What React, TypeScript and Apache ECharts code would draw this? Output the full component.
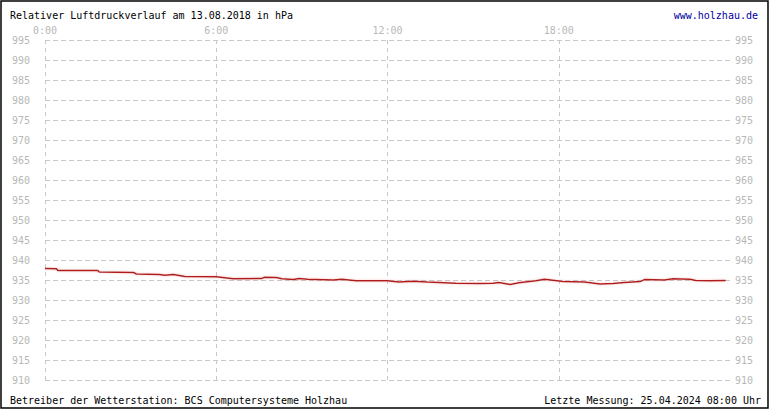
import React, { useEffect, useRef } from 'react';
import * as echarts from 'echarts';

// Messzeit in Stunden seit 0:00 und Luftdruck in hPa
const hours = [
  0.0, 0.4, 0.45, 1.85, 1.9, 3.1, 3.2, 4.0, 4.2, 4.5, 4.9, 6.0, 6.6, 7.6, 7.7, 8.1, 8.3, 8.7, 8.9,
  9.2, 10.1, 10.4, 10.9, 11.7, 12.0, 12.4, 12.9, 13.4, 14.4, 15.2, 15.7, 15.9, 16.3, 16.6, 17.2,
  17.5, 18.15, 18.9, 19.45, 19.9, 20.3, 20.85, 21.0, 21.7, 22.0, 22.6, 22.8, 23.3, 23.85,
];
const pressure = [
  937.9, 937.8, 937.4, 937.4, 937.0, 936.9, 936.5, 936.4, 936.2, 936.4, 935.9, 935.8, 935.3, 935.4,
  935.7, 935.6, 935.3, 935.1, 935.4, 935.2, 935.0, 935.2, 934.8, 934.8, 934.8, 934.5, 934.7, 934.5,
  934.2, 934.1, 934.2, 934.4, 933.9, 934.3, 934.8, 935.2, 934.6, 934.5, 934.0, 934.1, 934.4, 934.6,
  935.1, 935.0, 935.3, 935.2, 934.9, 934.8, 934.9,
];
const hourTicks = [0, 6, 12, 18];

const title = 'Relativer Luftdruckverlauf am 13.08.2018 in hPa';
const link = 'www.holzhau.de';
const footerLeft = 'Betreiber der Wetterstation: BCS Computersysteme Holzhau';
const footerRight = 'Letzte Messung: 25.04.2024 08:00 Uhr';

const FONT = '"DejaVu Sans Mono", "Liberation Mono", monospace';
const GRID = '#c8c8c8';
const LABEL = '#b8b8b8';

export default function App() {
  const chartRef = useRef<HTMLDivElement>(null);

  useEffect(() => {
    if (!chartRef.current) return;
    const chart = echarts.init(chartRef.current, undefined, { renderer: 'svg' });

    const yAxisBase = {
      type: 'value' as const,
      min: 910,
      max: 995,
      interval: 5,
      axisLine: { show: false },
      axisTick: { show: false },
      axisLabel: { color: LABEL, fontFamily: FONT, fontSize: 10 },
    };

    chart.setOption({
      animation: false,
      backgroundColor: '#fff',
      grid: { left: 45, right: 40, top: 40, bottom: 30 },
      xAxis: {
        type: 'value',
        position: 'top',
        min: 0,
        max: 24,
        interval: 6,
        axisLine: { show: false },
        axisTick: { show: false },
        axisLabel: {
          color: LABEL,
          fontFamily: FONT,
          fontSize: 10,
          margin: 5,
          showMaxLabel: false,
          formatter: (v: number) => (hourTicks.includes(v) ? `${v}:00` : ''),
        },
        splitLine: {
          show: true,
          lineStyle: {
            color: [GRID, GRID, GRID, GRID, 'rgba(0,0,0,0)'],
            type: [4, 4],
            width: 1,
          },
        },
      },
      yAxis: [
        {
          ...yAxisBase,
          position: 'left',
          axisLabel: { ...yAxisBase.axisLabel, margin: 15 },
          splitLine: { show: true, lineStyle: { color: GRID, type: [5, 3], width: 1 } },
        },
        {
          ...yAxisBase,
          position: 'right',
          axisLabel: { ...yAxisBase.axisLabel, margin: 5 },
          splitLine: { show: false },
        },
      ],
      series: [
        {
          type: 'line',
          data: hours.map((h, i) => [h, pressure[i]]),
          showSymbol: false,
          lineStyle: {
            color: '#b01e1e',
            width: 1.5,
            shadowColor: 'rgba(240,150,150,0.6)',
            shadowBlur: 2,
          },
          z: 3,
        },
      ],
      graphic: [
        {
          type: 'rect',
          shape: { x: 1, y: 1, width: 767, height: 407 },
          style: { fill: 'none', stroke: '#000', lineWidth: 1.5 },
          silent: true,
        },
        {
          type: 'text',
          x: 10,
          y: 15,
          style: { text: title, font: `10px ${FONT}`, fill: '#000', textVerticalAlign: 'middle' },
        },
        {
          type: 'text',
          x: 758,
          y: 15,
          style: {
            text: link,
            font: `10px ${FONT}`,
            fill: '#0000a0',
            textAlign: 'right',
            textVerticalAlign: 'middle',
          },
        },
        {
          type: 'text',
          x: 10,
          y: 400,
          style: { text: footerLeft, font: `10px ${FONT}`, fill: '#000', textVerticalAlign: 'middle' },
        },
        {
          type: 'text',
          x: 761,
          y: 400,
          style: {
            text: footerRight,
            font: `10px ${FONT}`,
            fill: '#000',
            textAlign: 'right',
            textVerticalAlign: 'middle',
          },
        },
      ],
    });

    return () => {
      chart.dispose();
    };
  }, []);

  return (
    <div
      ref={chartRef}
      style={{ position: 'absolute', left: 0, top: 0, width: '770px', height: '410px' }}
    />
  );
}
